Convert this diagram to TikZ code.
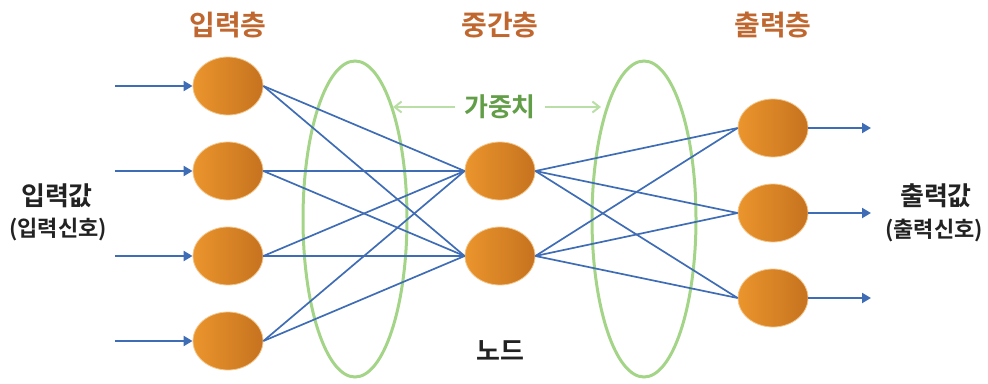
\documentclass[tikz,border=0pt]{standalone}
\usepackage{fontspec}
\setmainfont{Noto Sans CJK KR}[BoldFont={Noto Sans CJK KR Bold}]
\usetikzlibrary{arrows.meta,shapes.geometric}
\definecolor{nodeL}{HTML}{EA952C}
\definecolor{nodeR}{HTML}{C6721F}
\definecolor{titlec}{HTML}{BF672E}
\definecolor{wline}{HTML}{3F6DB5}
\definecolor{ringc}{HTML}{A3D487}
\definecolor{weightc}{HTML}{629E48}
\definecolor{weightarr}{HTML}{B9DEA6}
\definecolor{labelc}{HTML}{222222}
\tikzset{
  neuron/.style={ellipse, minimum width=70pt, minimum height=58pt, inner sep=0pt,
    left color=nodeL, right color=nodeR, draw=nodeL!55!white, line width=0.8pt},
  conn/.style={draw=wline, line width=1.7pt},
  sig/.style={draw=wline, line width=2pt, -{Triangle[length=9pt,width=10pt]}},
  ring/.style={ellipse, draw=ringc, line width=3pt, minimum width=104pt, minimum height=316pt, inner sep=0pt},
  title/.style={font=\bfseries\fontsize{28}{30}\selectfont, text=titlec},
  vlabel/.style={font=\bfseries\fontsize{26}{28}\selectfont, text=labelc},
  vsub/.style={font=\bfseries\fontsize{22}{24}\selectfont, text=labelc},
  weight/.style={font=\bfseries\fontsize{26}{28}\selectfont, text=weightc},
  warr/.style={draw=weightarr, line width=2pt, -{Straight Barb[length=7pt,width=11pt]}},
  nlabel/.style={font=\bfseries\fontsize{26}{28}\selectfont, text=labelc}
}
\begin{document}
\begin{tikzpicture}[x=1pt,y=-1pt]
\useasboundingbox (0,0) rectangle (988,383);
% rings
\node[ring] (ringL) at (355,219) {};
\node[ring] (ringR) at (644,219) {};
% input layer
\node[neuron] (i1) at (228,86) {};
\node[neuron] (i2) at (228,171) {};
\node[neuron] (i3) at (228,256) {};
\node[neuron] (i4) at (228,341) {};
% hidden layer
\node[neuron] (h1) at (500,171) {};
\node[neuron] (h2) at (500,256) {};
% output layer
\node[neuron] (o1) at (773,128) {};
\node[neuron] (o2) at (773,213) {};
\node[neuron] (o3) at (773,298) {};
% connections
\foreach \i in {i1,i2,i3,i4}{
  \foreach \h in {h1,h2}{
    \draw[conn] (\i.east) -- (\h.west);
  }
}
\foreach \h in {h1,h2}{
  \foreach \o in {o1,o2,o3}{
    \draw[conn] (\h.east) -- (\o.west);
  }
}
% input signals
\coordinate (s1) at (115,86);
\coordinate (s2) at (115,171);
\coordinate (s3) at (115,256);
\coordinate (s4) at (115,341);
\draw[sig] (s1) -- (i1.west);
\draw[sig] (s2) -- (i2.west);
\draw[sig] (s3) -- (i3.west);
\draw[sig] (s4) -- (i4.west);
% output signals
\coordinate (t1) at (871,128);
\coordinate (t2) at (871,213);
\coordinate (t3) at (871,298);
\draw[sig] (o1.east) -- (t1);
\draw[sig] (o2.east) -- (t2);
\draw[sig] (o3.east) -- (t3);
% titles
\node[title] (tin) at (228,25) {입력층};
\node[title] (thid) at (500,25) {중간층};
\node[title] (tout) at (773,25) {출력층};
% weights
\node[weight] (w) at (500,107) {가중치};
\coordinate (wl) at (393,107);
\coordinate (wr) at (601,107);
\draw[warr] ([xshift=-6pt]w.west) -- (wl);
\draw[warr] ([xshift=6pt]w.east) -- (wr);
% side labels
\node[vlabel] (inv) at (57,196) {입력값};
\node[vsub] (ins) at (58,230) {(입력신호)};
\node[vlabel] (outv) at (936,196) {출력값};
\node[vsub] (outs) at (934,231) {(출력신호)};
% node label
\node[nlabel] (nd) at (500,351) {노드};
\end{tikzpicture}
\end{document}
